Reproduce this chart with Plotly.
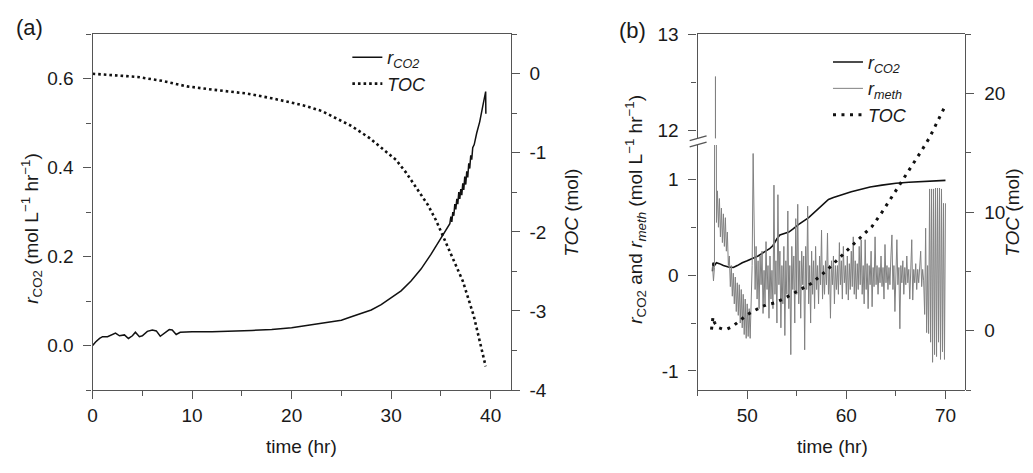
import plotly.graph_objects as go

# Viewport is 1033x473; the page body keeps the browser's default 8px margin,
# so the figure is 16px smaller and every layout position below is given in
# viewport pixels and converted.
VW, VH, M = 1033, 473, 8
W, H = VW - 2 * M, VH - 2 * M

# ---------------- Panel (a) data ----------------
a_co2_time = [0, 0.3, 0.7, 1.0, 1.5, 2.0, 2.3, 2.7, 3.2, 3.6, 4.0, 4.3, 4.7, 5.0, 5.5, 6.0,
              6.4, 6.8, 7.2, 7.7, 8.0, 8.4, 8.8, 9.5, 10, 12, 14, 16, 18, 20, 22, 24, 25, 26,
              27, 28, 29, 30, 31, 32, 33, 34, 35, 35.5, 35.9, 36.0, 36.1, 36.2, 36.3, 36.4,
              36.5, 36.6, 36.7, 36.8, 36.9, 37.0, 37.1, 37.2, 37.3, 37.4, 37.5, 37.6, 37.7,
              37.8, 37.9, 38.0, 38.1, 38.2, 38.35, 38.6, 38.9, 39.2, 39.5, 39.52]
a_co2_rate = [0.0, 0.008, 0.016, 0.020, 0.020, 0.025, 0.028, 0.022, 0.024, 0.016, 0.022, 0.030,
              0.020, 0.022, 0.032, 0.035, 0.033, 0.021, 0.028, 0.036, 0.035, 0.025, 0.030,
              0.031, 0.031, 0.031, 0.032, 0.034, 0.036, 0.040, 0.047, 0.053, 0.057, 0.065,
              0.072, 0.080, 0.092, 0.107, 0.123, 0.145, 0.172, 0.205, 0.240, 0.260, 0.274,
              0.290, 0.278, 0.300, 0.292, 0.318, 0.306, 0.330, 0.318, 0.345, 0.330, 0.352,
              0.338, 0.365, 0.350, 0.380, 0.362, 0.392, 0.378, 0.410, 0.398, 0.428, 0.418,
              0.445, 0.452, 0.478, 0.503, 0.537, 0.571, 0.521]
a_toc_time = [0, 2, 4.5, 7, 9.5, 12, 15.5, 18, 21.2, 23, 24.5, 26, 27.8, 29, 30.5, 31.5,
              32.8, 33.7, 34.5, 35.4, 36.3, 37.2, 38.3, 39.5]
a_toc_value = [0.0, -0.02, -0.04, -0.09, -0.16, -0.20, -0.25, -0.31, -0.40, -0.47, -0.56,
               -0.66, -0.81, -0.93, -1.09, -1.25, -1.49, -1.66, -1.85, -2.10, -2.35, -2.62,
               -3.06, -3.70]

# ---------------- Panel (b) data ----------------
b_co2_time = [46.5, 46.55, 46.7, 46.9, 47.2, 47.6, 48.1, 48.6, 49.0, 49.5, 50.0, 50.5, 51.1,
              51.7, 52.3, 52.6, 52.8, 53.0, 53.3, 53.8, 54.2, 54.6, 55.2, 56.2, 57.0, 57.6,
              58.2, 58.7, 59.5, 60.5, 61.2, 62.4, 63.6, 65.0, 66.3, 68.0, 70.0]
b_co2_rate = [0.04, 0.13, 0.10, 0.13, 0.12, 0.10, 0.085, 0.08, 0.10, 0.13, 0.15, 0.17, 0.20,
              0.24, 0.28, 0.31, 0.35, 0.38, 0.42, 0.44, 0.45, 0.48, 0.53, 0.60, 0.68, 0.74,
              0.79, 0.81, 0.84, 0.87, 0.89, 0.92, 0.94, 0.96, 0.97, 0.98, 0.99]
b_toc_time = [46.4, 46.55, 46.7, 47.0, 47.5, 48.0, 48.5, 49.0, 49.5, 50.0, 50.5, 51.0, 51.5,
              52.0, 52.8, 53.8, 55.2, 56.5, 57.9, 59.2, 60.6, 61.9, 62.6, 63.6, 64.6, 65.6,
              66.6, 67.6, 68.4, 69.2, 70.0]
b_toc_value = [0.1, 1.15, 0.7, 0.3, 0.15, 0.15, 0.35, 0.7, 1.05, 1.35, 1.6, 1.85, 2.05, 2.2,
               2.35, 2.75, 3.4, 4.0, 5.0, 6.1, 7.2, 8.25, 8.8, 10.0, 11.3, 12.5, 13.9, 15.2,
               16.3, 17.6, 19.0]
b_meth_start = 46.5   # hr, sampling start
b_meth_step = 0.1     # hr, sampling interval
b_meth_rate = [
    0.10, -0.06, 0.08, 12.56, 0.55,
    0.88, 0.50, 0.80, 0.40, 0.70, 0.34, 0.64, 0.30, 0.60, 0.25,
    0.45, 0.10, 0.20, -0.12, 0.10, -0.22, 0.02, -0.30, -0.02, -0.38,
    -0.08, -0.42, -0.10, -0.50, -0.15, -0.55, -0.20, -0.62, -0.25, -0.66,
    -0.30, -0.64, -0.35, -0.66, -0.20, 0.10, 1.27, 0.20, -0.15, 0.30,
    -0.25, 0.15, -0.35, 0.20, -0.10, 0.25, -0.40, 0.05, -0.30, 0.35,
    -0.15, 0.10, -0.45, 0.20, -0.25, 0.05, -0.35, 0.94, -0.20, 0.15,
    -0.50, 0.84, -0.10, 0.25, -0.55, 0.10, -0.30, 0.30, -0.63, 0.15,
    -0.20, 0.67, -0.35, 0.10, -0.83, 0.30, -0.15, 0.20, -0.50, 0.59,
    -0.20, 0.74, -0.30, 0.15, -0.45, 0.25, -0.10, 0.20, -0.78, 0.30,
    -0.15, 0.72, -0.30, 0.10, -0.50, 0.25, -0.20, 0.15, -0.35, 0.30,
    -0.15, 0.10, -0.30, 0.20, -0.10, 0.47, -0.25, 0.10, -0.20, 0.15,
    -0.10, 0.44, -0.20, 0.10, -0.45, 0.15, -0.10, 0.20, -0.30, 0.10,
    -0.15, 0.10, -0.20, 0.34, -0.10, 0.15, -0.25, 0.30, -0.08, 0.10,
    -0.20, 0.20, -0.26, 0.12, -0.15, 0.25, -0.12, 0.40, -0.20, 0.15,
    -0.25, 0.12, -0.15, 0.30, -0.10, 0.37, -0.20, 0.10, -0.30, 0.37,
    -0.15, 0.12, -0.35, 0.10, -0.10, 0.25, -0.33, 0.08, -0.12, 0.40,
    -0.10, 0.10, -0.20, 0.08, -0.08, 0.20, -0.12, 0.08, -0.25, 0.32,
    -0.08, 0.10, -0.15, 0.08, -0.10, 0.20, 0.42, -0.15, 0.10, -0.38,
    0.08, 0.37, -0.10, 0.08, -0.56, 0.10, -0.08, 0.15, -0.20, 0.08,
    -0.10, 0.20, -0.08, 0.06, -0.25, 0.10, 0.37, -0.26, 0.06, -0.08,
    0.12, -0.15, 0.06, -0.08, 0.10, 0.25, -0.12, 0.06, -0.06, -0.41,
    0.49, -0.60, 0.10, -0.61, 0.90, -0.70, 0.90, -0.91, 0.90, -0.83,
    0.91, -0.85, 0.91, -0.70, 0.91, -0.88, 0.90, -0.80, 0.75, -0.88,
    0.75,
]
b_meth_time = [round(b_meth_start + i * b_meth_step, 2) for i in range(len(b_meth_rate))]

# ---------------- tick labels ----------------
a_x_ticks = [0, 10, 20, 30, 40]
a_left_ticks = [0.0, 0.2, 0.4, 0.6]
a_left_labels = ["0.0", "0.2", "0.4", "0.6"]
a_right_ticks = [0, -1, -2, -3, -4]
a_right_labels = ["0", "-1", "-2", "-3", "-4"]
b_x_ticks = [50, 60, 70]
b_low_ticks = [-1, 0, 1]
b_low_labels = ["-1", "0", "1"]
b_up_ticks = [12, 13]
b_right_ticks = [0, 10, 20]

FONT = "Liberation Sans, Arial, sans-serif"
LINE = "#555555"
TXT = "#1a1a1a"


def px_x(x):
    return (x - M) / W


def px_y(y):
    return 1 - (y - M) / H


def axis(**kw):
    d = dict(showline=True, linecolor=LINE, linewidth=1.3, ticks="outside", tickcolor=LINE,
             ticklen=8, tickwidth=1.3, showgrid=False, zeroline=False,
             tickfont=dict(family=FONT, size=19, color=TXT),
             minor=dict(ticks="outside", ticklen=5, tickcolor=LINE, tickwidth=1.3, showgrid=False))
    minor = kw.pop("minor", None)
    if minor:
        d["minor"].update(minor)
    d.update(kw)
    return d


fig = go.Figure()

rco2 = "<i>r<sub>CO2</sub></i>"
rmeth = "<i>r<sub>meth</sub></i>"
toc = "<i>TOC</i>"

fig.add_trace(go.Scatter(x=a_co2_time, y=a_co2_rate, xaxis="x", yaxis="y", mode="lines",
                         line=dict(color="#111111", width=1.5), name=rco2, legend="legend"))
fig.add_trace(go.Scatter(x=a_toc_time, y=a_toc_value, xaxis="x", yaxis="y2", mode="lines",
                         line=dict(color="#111111", width=2.6, dash="2.6px,3px"), name=toc,
                         legend="legend"))

fig.add_trace(go.Scatter(x=b_co2_time, y=b_co2_rate, xaxis="x2", yaxis="y3", mode="lines",
                         line=dict(color="#111111", width=1.6), name=rco2, legend="legend2"))
fig.add_trace(go.Scatter(x=b_meth_time, y=b_meth_rate, xaxis="x2", yaxis="y3", mode="lines",
                         line=dict(color="#808080", width=1), name=rmeth, legend="legend2"))
fig.add_trace(go.Scatter(x=b_meth_time, y=b_meth_rate, xaxis="x3", yaxis="y4", mode="lines",
                         line=dict(color="#808080", width=1), showlegend=False))
fig.add_trace(go.Scatter(x=b_toc_time, y=b_toc_value, xaxis="x2", yaxis="y5", mode="lines",
                         line=dict(color="#111111", width=3, dash="3px,5.5px"), name=toc,
                         legend="legend2"))

top_a, bot = 25, 398
fig.update_layout(
    width=W, height=H, margin=dict(l=0, r=0, t=0, b=0),
    paper_bgcolor="white", plot_bgcolor="rgba(0,0,0,0)",
    font=dict(family=FONT, color=TXT),
    xaxis=axis(domain=[px_x(88), px_x(508)], range=[0, 42], anchor="y", mirror=True,
               tickvals=a_x_ticks, minor=dict(dtick=5, tick0=0)),
    yaxis=axis(domain=[px_y(bot), px_y(top_a)], range=[-0.1, 0.7], anchor="x",
               tickvals=a_left_ticks, ticktext=a_left_labels, ticklabelstandoff=6,
               minor=dict(dtick=0.1, tick0=0)),
    yaxis2=axis(overlaying="y", side="right", anchor="x", range=[-4, 0.5],
                tickvals=a_right_ticks, ticktext=a_right_labels, ticklabelstandoff=6,
                minor=dict(dtick=0.5, tick0=0)),
    xaxis2=axis(domain=[px_x(696), px_x(965)], range=[45, 72], anchor="y3",
                tickvals=b_x_ticks, minor=dict(dtick=5, tick0=45)),
    yaxis3=axis(domain=[px_y(bot), px_y(141)], range=[-1.2, 1.36], anchor="x2",
                tickvals=b_low_ticks, ticktext=b_low_labels, ticklabelstandoff=6,
                minor=dict(dtick=0.5, tick0=0)),
    xaxis3=dict(domain=[px_x(696), px_x(965)], matches="x2", anchor="y4", side="top",
                showline=True, linecolor=LINE, linewidth=1.3, ticks="", showticklabels=False,
                showgrid=False, zeroline=False),
    yaxis4=axis(domain=[px_y(134), px_y(top_a)], range=[11.92, 13.0], anchor="x3",
                tickvals=b_up_ticks, ticklabelstandoff=6, minor=dict(dtick=0.5, tick0=12)),
    yaxis5=axis(domain=[px_y(bot), px_y(top_a)], range=[-5, 25], anchor="x2", side="right",
                tickvals=b_right_ticks, ticklabelstandoff=6, minor=dict(dtick=5, tick0=-5)),
    legend=dict(x=px_x(344), y=px_y(30), xanchor="left", yanchor="top",
                bgcolor="rgba(0,0,0,0)", font=dict(family=FONT, size=18, color=TXT),
                tracegroupgap=0, itemwidth=30),
    legend2=dict(x=px_x(827), y=px_y(35), xanchor="left", yanchor="top",
                 bgcolor="rgba(0,0,0,0)", font=dict(family=FONT, size=18, color=TXT),
                 tracegroupgap=0, itemwidth=30),
    showlegend=True,
)

# axis break marks on the left axis of panel (b)
for y0 in (136.5, 143.0):
    fig.add_shape(type="line", xref="paper", yref="paper",
                  x0=px_x(688), y0=px_y(y0), x1=px_x(705), y1=px_y(y0 - 5),
                  line=dict(color=LINE, width=1.3))

ann = [
    dict(text="(a)", x=px_x(25), y=px_y(18), size=22, angle=0),
    dict(text="(b)", x=px_x(631), y=px_y(21), size=22, angle=0),
    dict(text="<i>r</i><sub>CO2</sub> (mol L<sup>\u22121</sup> hr<sup>\u22121</sup>)",
         x=px_x(27), y=px_y(228), size=19, angle=-90),
    dict(text="<i>TOC</i> (mol)", x=px_x(569), y=px_y(212), size=19, angle=-90),
    dict(text="<i>r</i><sub>CO2</sub> and <i>r<sub>meth</sub></i> (mol L<sup>\u22121</sup> hr<sup>\u22121</sup>)",
         x=px_x(634), y=px_y(208), size=19, angle=-90),
    dict(text="<i>TOC</i> (mol)", x=px_x(1013), y=px_y(212), size=19, angle=-90),
    dict(text="time (hr)", x=px_x(298), y=px_y(457), size=19, angle=0),
    dict(text="time (hr)", x=px_x(832), y=px_y(457), size=19, angle=0),
]
for a in ann:
    fig.add_annotation(text=a["text"], x=a["x"], y=a["y"], xref="paper", yref="paper",
                       showarrow=False, textangle=a["angle"], xanchor="center", yanchor="middle",
                       font=dict(family=FONT, size=a["size"], color=TXT))

fig.write_html("out.html", config={"displayModeBar": False})
